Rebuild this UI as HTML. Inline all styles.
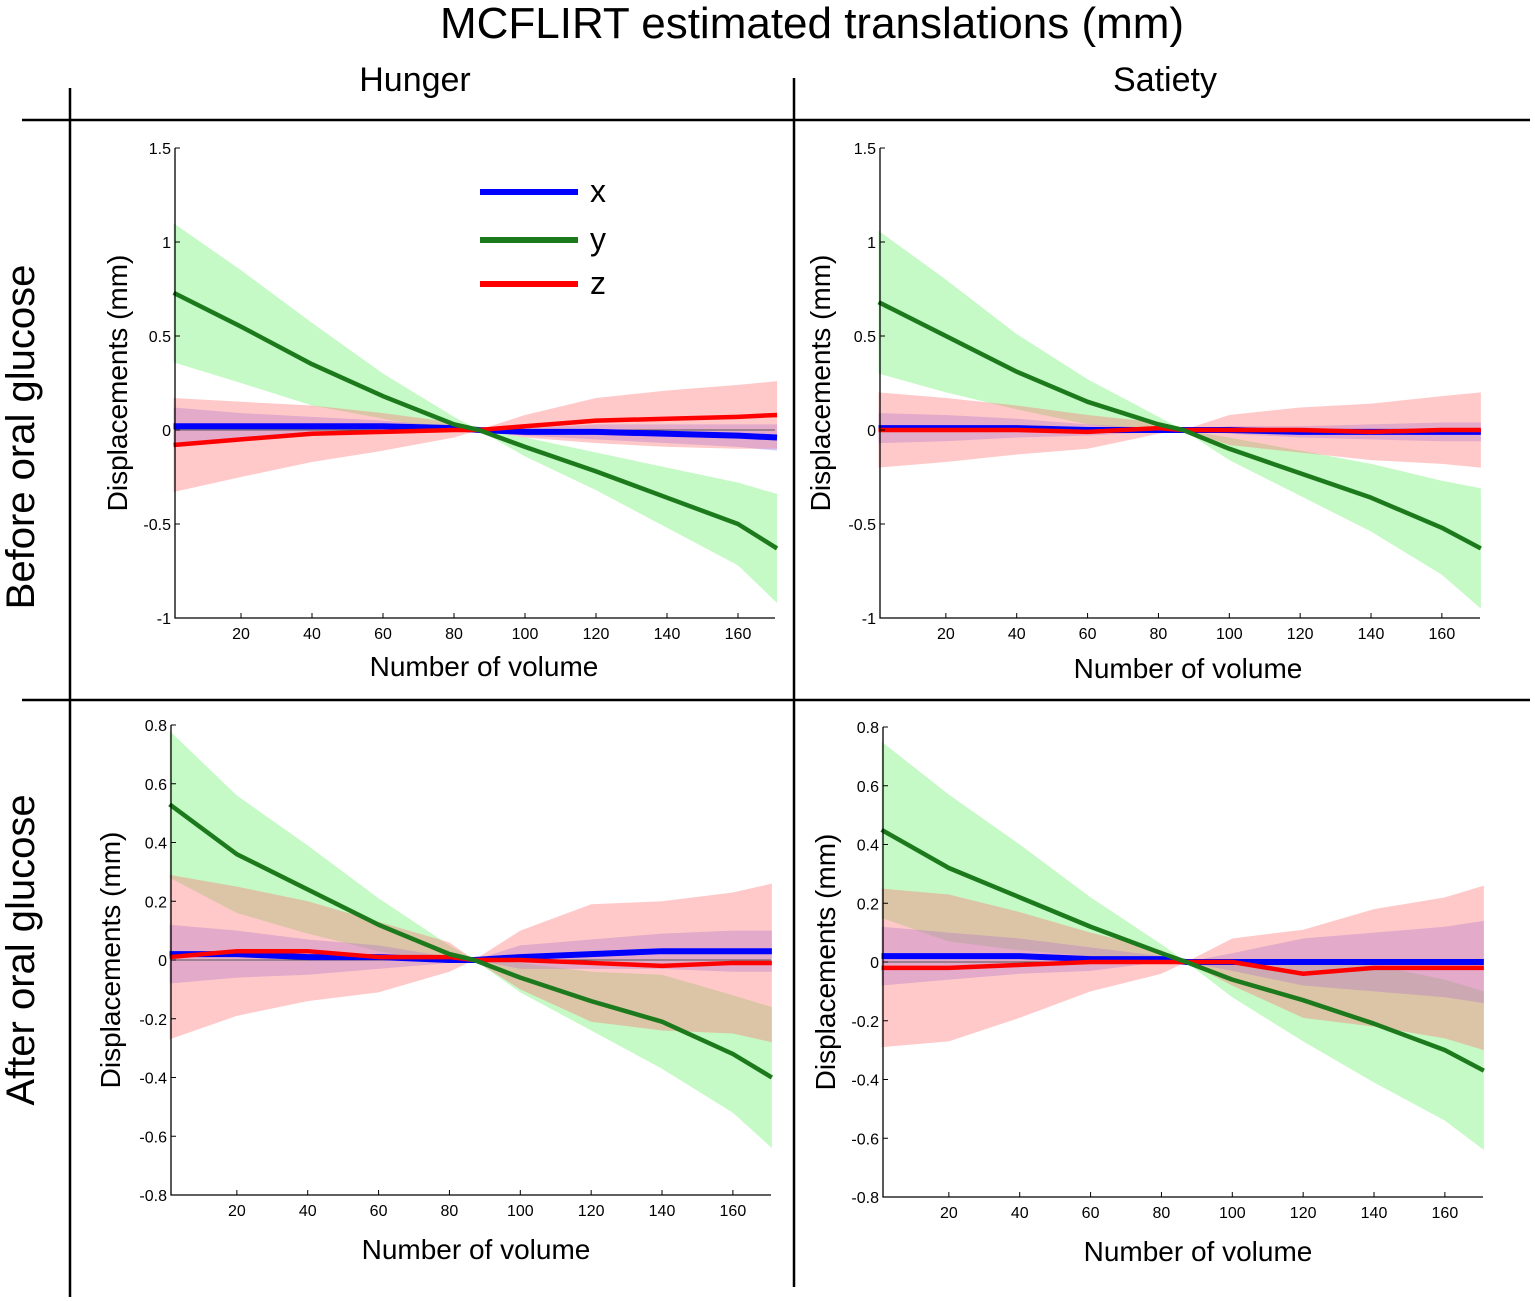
<!DOCTYPE html>
<html><head><meta charset="utf-8"><style>
html,body{margin:0;padding:0;background:#fff;}
svg{display:block;font-family:"Liberation Sans",Arial,sans-serif;}
</style></head><body>
<svg id="fig" width="1535" height="1301" viewBox="0 0 1535 1301">
<text x="812" y="38" font-size="44" text-anchor="middle">MCFLIRT estimated translations (mm)</text>
<text x="415" y="91" font-size="34" text-anchor="middle">Hunger</text>
<text x="1165" y="91" font-size="34" text-anchor="middle">Satiety</text>
<line x1="22" y1="120" x2="1530" y2="120" stroke="#000" stroke-width="2.5"/>
<line x1="22" y1="700" x2="1530" y2="700" stroke="#000" stroke-width="2.5"/>
<line x1="70" y1="88" x2="70" y2="1297" stroke="#000" stroke-width="2.5"/>
<line x1="794" y1="78" x2="794" y2="1287" stroke="#000" stroke-width="2.5"/>
<text transform="translate(34,437) rotate(-90)" font-size="40" text-anchor="middle">Before oral glucose</text>
<text transform="translate(34,950) rotate(-90)" font-size="40" text-anchor="middle">After oral glucose</text>
<g id="panels"></g>
</svg>
<script>
const vols = [1,20,40,60,80,87,100,120,140,160,171];
const xTicks = [20,40,60,80,100,120,140,160];
const yTicksTop = [-1,-0.5,0,0.5,1,1.5];
const yTicksBottom = [-0.8,-0.6,-0.4,-0.2,0,0.2,0.4,0.6,0.8];

const p1yMean = [0.73,0.55,0.35,0.18,0.03,0,-0.09,-0.22,-0.36,-0.50,-0.63];
const p1ySd   = [0.37,0.30,0.22,0.12,0.04,0,0.05,0.10,0.16,0.22,0.29];
const p1xMean = [0.02,0.02,0.02,0.02,0.01,0,-0.01,-0.01,-0.02,-0.03,-0.04];
const p1xSd   = [0.10,0.07,0.05,0.03,0.01,0,0.02,0.04,0.05,0.06,0.07];
const p1zMean = [-0.08,-0.05,-0.02,-0.01,0,0,0.02,0.05,0.06,0.07,0.08];
const p1zSd   = [0.25,0.20,0.15,0.10,0.04,0,0.06,0.12,0.15,0.17,0.18];

const p2yMean = [0.68,0.50,0.31,0.15,0.03,0,-0.10,-0.23,-0.36,-0.52,-0.63];
const p2ySd   = [0.38,0.30,0.20,0.12,0.04,0,0.06,0.12,0.18,0.25,0.32];
const p2xMean = [0.01,0.01,0.01,0.0,0.0,0,0,-0.01,-0.01,-0.01,-0.01];
const p2xSd   = [0.08,0.07,0.05,0.03,0.01,0,0.02,0.03,0.04,0.05,0.05];
const p2zMean = [0.0,0.0,0.0,-0.01,0.01,0,0.0,0.0,-0.01,0.0,0.0];
const p2zSd   = [0.20,0.17,0.13,0.09,0.03,0,0.08,0.12,0.15,0.18,0.20];

const p3yMean = [0.53,0.36,0.24,0.12,0.02,0,-0.06,-0.14,-0.21,-0.32,-0.40];
const p3ySd   = [0.25,0.20,0.15,0.09,0.03,0,0.05,0.10,0.16,0.20,0.24];
const p3xMean = [0.02,0.02,0.01,0.01,0,0,0.01,0.02,0.03,0.03,0.03];
const p3xSd   = [0.10,0.08,0.06,0.04,0.01,0,0.04,0.05,0.06,0.07,0.07];
const p3zMean = [0.01,0.03,0.03,0.01,0.01,0,0,-0.01,-0.02,-0.01,-0.01];
const p3zSd   = [0.28,0.22,0.17,0.12,0.05,0,0.10,0.20,0.22,0.24,0.27];

const p4yMean = [0.45,0.32,0.22,0.12,0.03,0,-0.06,-0.13,-0.21,-0.30,-0.37];
const p4ySd   = [0.30,0.25,0.18,0.10,0.03,0,0.06,0.14,0.20,0.24,0.27];
const p4xMean = [0.02,0.02,0.02,0.01,0.01,0,0,0,0,0,0];
const p4xSd   = [0.10,0.08,0.06,0.04,0.01,0,0.03,0.08,0.10,0.12,0.14];
const p4zMean = [-0.02,-0.02,-0.01,0,0,0,0,-0.04,-0.02,-0.02,-0.02];
const p4zSd   = [0.27,0.25,0.18,0.10,0.04,0,0.08,0.15,0.20,0.24,0.28];

const NS='http://www.w3.org/2000/svg';
const root=document.getElementById('panels');
function mk(tag,attrs,parent){const e=document.createElementNS(NS,tag);for(const k in attrs)e.setAttribute(k,attrs[k]);parent.appendChild(e);return e;}

const panels=[
 {name:'hunger-before',left:175,right:775,top:148,bottom:618,ymin:-1,ymax:1.5,x0:170,xs:3.55,yt:yTicksTop,
  s:[[p1yMean,p1ySd],[p1xMean,p1xSd],[p1zMean,p1zSd]],legend:true,yLabX:117,xlx:484,xly:676},
 {name:'satiety-before',left:880,right:1480,top:148,bottom:618,ymin:-1,ymax:1.5,x0:875,xs:3.543,yt:yTicksTop,
  s:[[p2yMean,p2ySd],[p2xMean,p2xSd],[p2zMean,p2zSd]],yLabX:820,xlx:1188,xly:678},
 {name:'hunger-after',left:171,right:771,top:725,bottom:1195,ymin:-0.8,ymax:0.8,x0:166,xs:3.543,yt:yTicksBottom,
  s:[[p3yMean,p3ySd],[p3xMean,p3xSd],[p3zMean,p3zSd]],yLabX:110,xlx:476,xly:1259},
 {name:'satiety-after',left:883,right:1483,top:727,bottom:1197,ymin:-0.8,ymax:0.8,x0:878,xs:3.543,yt:yTicksBottom,
  s:[[p4yMean,p4ySd],[p4xMean,p4xSd],[p4zMean,p4zSd]],yLabX:825,xlx:1198,xly:1261}
];
const bandCols=['rgba(110,240,110,0.4)','rgba(120,110,255,0.35)','rgba(255,120,120,0.4)'];
const lineCols=['#1c7a1c','#0000ff','#ff0000'];
const lineW=[4.5,6,4.5];
const names=['y','x','z'];

panels.forEach(p=>{
 const g=mk('g',{},root);
 
 
 const X=v=>p.x0+v*p.xs;
 const Y=v=>p.bottom-(v-p.ymin)/(p.ymax-p.ymin)*(p.bottom-p.top);
 p.s.forEach((ser,i)=>{
  const [m,sd]=ser;
  let pts=vols.map((v,k)=>X(v)+','+Y(m[k]+sd[k]));
  let lo=vols.map((v,k)=>X(v)+','+Y(m[k]-sd[k])).reverse();
  const b=mk('polygon',{points:pts.concat(lo).join(' '),fill:bandCols[i]},g);
  
  
 });
 const z=mk('line',{x1:p.left,x2:p.right,y1:Y(0),y2:Y(0),stroke:'#555','stroke-width':1},g);
 
 
 [1,2,0].forEach(i=>{
  const [m]=p.s[i];
  const l=mk('polyline',{points:vols.map((v,k)=>X(v)+','+Y(m[k])).join(' '),fill:'none',stroke:lineCols[i],'stroke-width':lineW[i],'stroke-linejoin':'round'},g);
  
  
 });
 const ax=mk('path',{d:`M${p.left},${p.top} V${p.bottom} H${p.right}`,fill:'none',stroke:'#000','stroke-width':1.3},g);
 
 
 p.yt.forEach(t=>{
  mk('line',{x1:p.left,x2:p.left+5,y1:Y(t),y2:Y(t),stroke:'#000'},g);
  const tx=mk('text',{x:p.left-4,y:Y(t)+6,'font-size':16,'text-anchor':'end'},g);
  tx.textContent=String(t);
  
  
 });
 xTicks.forEach(t=>{
  mk('line',{x1:X(t),x2:X(t),y1:p.bottom,y2:p.bottom-5,stroke:'#000'},g);
  const tx=mk('text',{x:X(t),y:p.bottom+21,'font-size':16,'text-anchor':'middle'},g);
  tx.textContent=String(t);
  
  
 });
 const xl=mk('text',{x:p.xlx,y:p.xly,'font-size':28,'text-anchor':'middle'},g);
 xl.textContent='Number of volume';
 
 
 const yl=mk('text',{transform:`translate(${p.yLabX+10},${(p.top+p.bottom)/2}) rotate(-90)`,'font-size':28,'text-anchor':'middle'},g);
 yl.textContent='Displacements (mm)';
 
 
 if(p.legend){
  [['x','#0000ff',192],['y','#1c7a1c',240],['z','#ff0000',284]].forEach(([n,c,yy])=>{
   const lg=mk('g',{},g);
   
   
   mk('line',{x1:480,x2:578,y1:yy,y2:yy,stroke:c,'stroke-width':6},lg);
   const t=mk('text',{x:590,y:yy+10,'font-size':32},lg);
   t.textContent=n;
  });
 }
});
</script>
</body></html>
